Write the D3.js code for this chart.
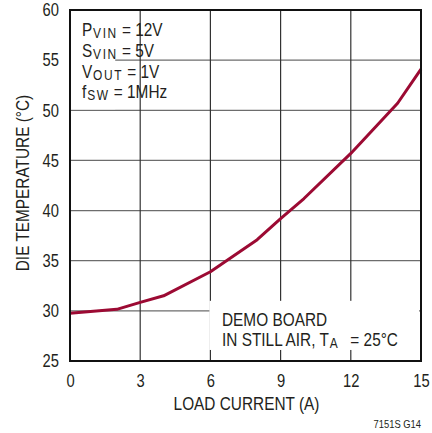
<!DOCTYPE html>
<html>
<head>
<meta charset="utf-8">
<script src="https://cdn.jsdelivr.net/npm/d3@7"></script>
<style>
  body { margin: 0; background: #fff; }
  text { font-family: "Liberation Sans", Arial, sans-serif; fill: #231f20; }
</style>
</head>
<body>
<div id="chart"></div>
<script>
// load current (A) vs die temperature (C)
var loadCurrent = [0, 2, 3, 4, 6, 8, 9, 10, 12, 14, 15];
var dieTemp = [29.75, 30.15, 30.85, 31.5, 33.9, 37.1, 39.2, 41.2, 45.7, 50.7, 54.1];
var xTicks = [0, 3, 6, 9, 12, 15];
var yTicks = [25, 30, 35, 40, 45, 50, 55, 60];

var margin = { top: 10, right: 11, left: 70, bottom: 72 };
var W = 432, H = 433;
var width = W - margin.left - margin.right;
var height = H - margin.top - margin.bottom;
var SX = 0.855; // squeeze to look like a narrow font
var SXT = 0.82;

var x = d3.scaleLinear().domain([0, 15]).range([0, width]);
var y = d3.scaleLinear().domain([25, 60]).range([height, 0]);

var svg = d3.select('#chart').append('svg')
    .attr('width', W).attr('height', H);
var g = svg.append('g')
    .attr('transform', 'translate(' + margin.left + ',' + margin.top + ')');

function label(px, py, size, anchor, rot) {
    return svg.append('text')
        .attr('transform', 'translate(' + px + ',' + py + ')' + (rot ? ' rotate(' + rot + ')' : '') + ' scale(' + SX + ',1)')
        .attr('text-anchor', anchor || 'start')
        .style('font-size', size + 'px');
}
function sub(t, s) {
    t.append('tspan').attr('dy', 2).attr('dx', 1).style('font-size', '14px')
        .style('letter-spacing', '1.8px').text(s);
}

// grid
g.selectAll('.hgrid').data(yTicks).enter().append('line')
    .attr('x1', 0).attr('x2', width)
    .attr('y1', function (d) { return y(d); }).attr('y2', function (d) { return y(d); })
    .style('stroke', '#6d6d6d').style('stroke-width', 1.2);
g.selectAll('.vgrid').data(xTicks).enter().append('line')
    .attr('y1', 0).attr('y2', height)
    .attr('x1', function (d) { return x(d); }).attr('x2', function (d) { return x(d); })
    .style('stroke', '#333').style('stroke-width', 1.2);

// white boxes behind notes
g.append('rect')
    .attr('x', 0).attr('y', 0)
    .attr('width', x(3) - 25).attr('height', y(50) - 1)
    .style('fill', '#fff');
g.append('rect')
    .attr('x', x(6) - 1).attr('y', y(31))
    .attr('width', x(15) - x(6) - 1).attr('height', y(26.1) - y(31))
    .style('fill', '#fff');

// curve
var line = d3.line()
    .x(function (d, i) { return x(loadCurrent[i]); })
    .y(function (d) { return y(d); });
g.append('path')
    .attr('d', line(dieTemp))
    .style('fill', 'none')
    .style('stroke', '#9c0a33')
    .style('stroke-width', 3)
    .style('stroke-linejoin', 'round');

// frame
g.append('rect')
    .attr('width', width).attr('height', height)
    .style('fill', 'none').style('stroke', '#111').style('stroke-width', 2);

// axes labels
var xAxis = d3.axisBottom(x).tickValues(xTicks).tickSize(0).tickPadding(13);
var gx = g.append('g').attr('transform', 'translate(0,' + height + ')').call(xAxis);
gx.select('.domain').remove();
gx.selectAll('text').style('font-size', '18px').attr('fill', '#231f20')
    .attr('font-family', null)
    .attr('transform', 'scale(' + SXT + ',1)');

var yAxis = d3.axisLeft(y).tickValues(yTicks).tickSize(0).tickPadding(10);
var gy = g.append('g').call(yAxis);
gy.select('.domain').remove();
gy.selectAll('text').style('font-size', '18px').attr('fill', '#231f20')
    .attr('font-family', null)
    .attr('x', -11 / SXT)
    .attr('transform', 'scale(' + SXT + ',1)');

label(margin.left + width / 2 + 1, 410, 18, 'middle').text('LOAD CURRENT (A)');
label(29, 183, 18, 'middle', -90).text('DIE TEMPERATURE (°C)');
label(421, 428, 11, 'end').text('7151S G14');

// notes
var notes = [['P', 'VIN', '= 12V'], ['S', 'VIN', '= 5V'], ['V', 'OUT', '= 1V'], ['f', 'SW', '= 1MHz']];
notes.forEach(function (n, i) {
    var t = label(82, 36 + i * 20.8, 18);
    t.append('tspan').text(n[0]);
    sub(t, n[1]);
    t.append('tspan').attr('dy', -2).attr('dx', 5).text(n[2]);
});
label(222, 326, 18).text('DEMO BOARD');
var t2 = label(222, 346, 18);
t2.append('tspan').text('IN STILL AIR, T');
sub(t2, 'A');
t2.append('tspan').attr('dy', -2).attr('dx', 13).text('= 25°C');
</script>
</body>
</html>
